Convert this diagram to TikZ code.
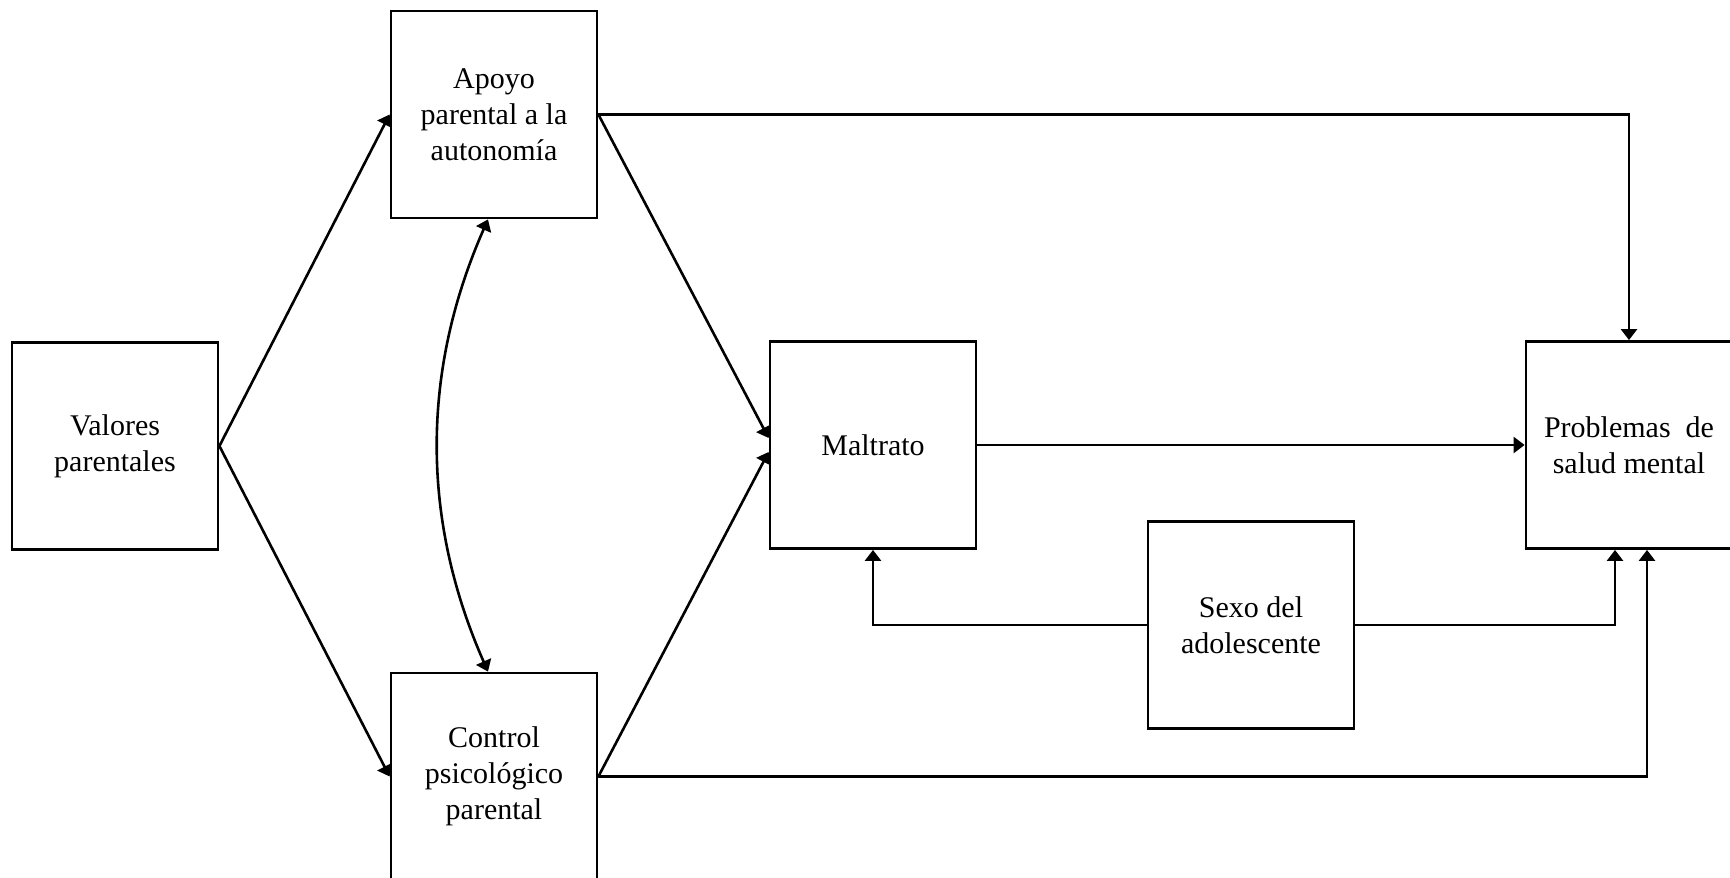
\documentclass[tikz,border=0pt]{standalone}
\usepackage{fontspec}
\setmainfont{Liberation Serif}
\usetikzlibrary{arrows.meta,calc}
\tikzset{
  box/.style={draw, line width=1.4pt, minimum width=103pt, minimum height=103.5pt,
    inner sep=0pt, align=center, font=\fontsize{15pt}{18pt}\selectfont},
  tip/.tip={Triangle[length=5.5pt,width=8pt]},
  link/.style={line width=1.3pt, -tip},
  twoway/.style={line width=1.3pt, tip-tip}
}
\begin{document}
\begin{tikzpicture}[x=0.5pt,y=-0.5pt]
\clip (0,0) rectangle (1730,878);
\fill[white] (0,0) rectangle (1730,878);

\node[box] (val) at (115,446) {Valores\\parentales};
\node[box] (apo) at (494,114.5) {Apoyo\\parental\ a la\\autonomía};
\node[box] (con) at (494,776.5) {Control\\psicológico\\parental};
\node[box] (mal) at (873,445) {Maltrato};
\node[box] (sex) at (1251,625) {Sexo\ del\\adolescente};
\node[box] (pro) at (1629,445) {Problemas\ \ de\\salud mental};

% paths out of parental values
\draw[link] (val.east) -- (apo.west);
\draw[link] (val.east) -- (con.west);

% paths into maltreatment
\draw[link] (apo.east) -- ($(mal.west)+(0,-7)$);
\draw[link] (con.east) -- ($(mal.west)+(0,7)$);

% paths into mental health problems
\draw[link] (apo.east) -| (pro.north);
\draw[link] (mal.east) -- (pro.west);
\draw[link] (con.east) -| ($(pro.south)+(18,0)$);

% adolescent sex as covariate
\draw[link] (sex.west) -| (mal.south);
\draw[link] (sex.east) -| ($(pro.south)+(-14,0)$);

% covariance between the two parenting dimensions
\coordinate (ca) at ($(apo.south)+(-6,0)$);
\coordinate (cc) at ($(con.north)+(-6,0)$);
\draw[twoway] (ca) .. controls +(-67,152) and +(-67,-152) .. (cc);
\end{tikzpicture}
\end{document}
